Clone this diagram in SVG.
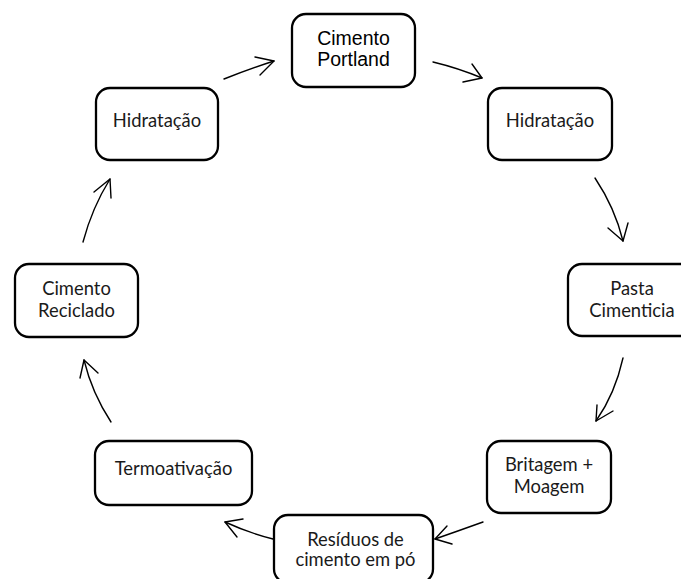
<svg xmlns="http://www.w3.org/2000/svg" width="681" height="579" viewBox="0 0 681 579">
<style>
.box{fill:#fff;stroke:#000;stroke-width:2.3}
.t{font-family:Lato,"Open Sans",sans-serif;font-size:18.4px;fill:#1a1a1a;text-anchor:middle}
.a{font-family:"Liberation Sans",Arial,sans-serif;font-size:19.5px;fill:#000;text-anchor:middle}
.c{fill:none;stroke:#000;stroke-width:1.4;stroke-linecap:round;stroke-linejoin:round}
</style>
<rect width="681" height="579" fill="#fff"/>
<g id="connectors">
<path class="c" d="M433,62 Q458,68 482,78"/><polyline class="c" points="472,64 482,78 463,82"/>
<path class="c" d="M595,178 Q615,208 623,241"/><polyline class="c" points="608,228 623,241 628,223"/>
<path class="c" d="M623,358 Q615,394 596,421"/><polyline class="c" points="597,405 596,421 613,411"/>
<path class="c" d="M483,522 Q458,531 435,539"/><polyline class="c" points="447,526 435,539 452,544"/>
<path class="c" d="M273,539 Q249,533 225,522"/><polyline class="c" points="243,519 225,522 237,537"/>
<path class="c" d="M111,422 Q92,393 84,360"/><polyline class="c" points="80,378 84,360 98,373"/>
<path class="c" d="M83,242 Q92,208 110,179"/><polyline class="c" points="94,192 110,179 111,198"/>
<path class="c" d="M224,79 Q249,69 274,61"/><polyline class="c" points="255,57 274,61 260,75"/>
</g>
<g id="n-portland"><rect class="box" x="292" y="14" width="123" height="73" rx="14"/><text class="a" x="353.5" y="45">Cimento</text><text class="a" x="353.5" y="66">Portland</text></g>
<g id="n-hidratacao-r"><rect class="box" x="488" y="88" width="124" height="72" rx="14"/><text class="t" x="550" y="126.5">Hidratação</text></g>
<g id="n-pasta"><rect class="box" x="568" y="264" width="128" height="72" rx="14"/><text class="t" x="632" y="295">Pasta</text><text class="t" x="632" y="317">Cimenticia</text></g>
<g id="n-britagem"><rect class="box" x="487" y="441" width="124" height="72" rx="14"/><text class="t" x="549" y="470.5">Britagem +</text><text class="t" x="549" y="492.5">Moagem</text></g>
<g id="n-residuos"><rect class="box" x="274" y="515" width="159" height="68" rx="14"/><text class="t" x="355.5" y="545.5">Resíduos de</text><text class="t" x="355.5" y="566">cimento em pó</text></g>
<g id="n-termo"><rect class="box" x="95" y="441" width="157" height="64" rx="14"/><text class="t" x="173.5" y="475">Termoativação</text></g>
<g id="n-reciclado"><rect class="box" x="15" y="264" width="123" height="73" rx="14"/><text class="t" x="76.5" y="295">Cimento</text><text class="t" x="76.5" y="317">Reciclado</text></g>
<g id="n-hidratacao-l"><rect class="box" x="96" y="88" width="122" height="72" rx="14"/><text class="t" x="157" y="126.5">Hidratação</text></g>
</svg>
